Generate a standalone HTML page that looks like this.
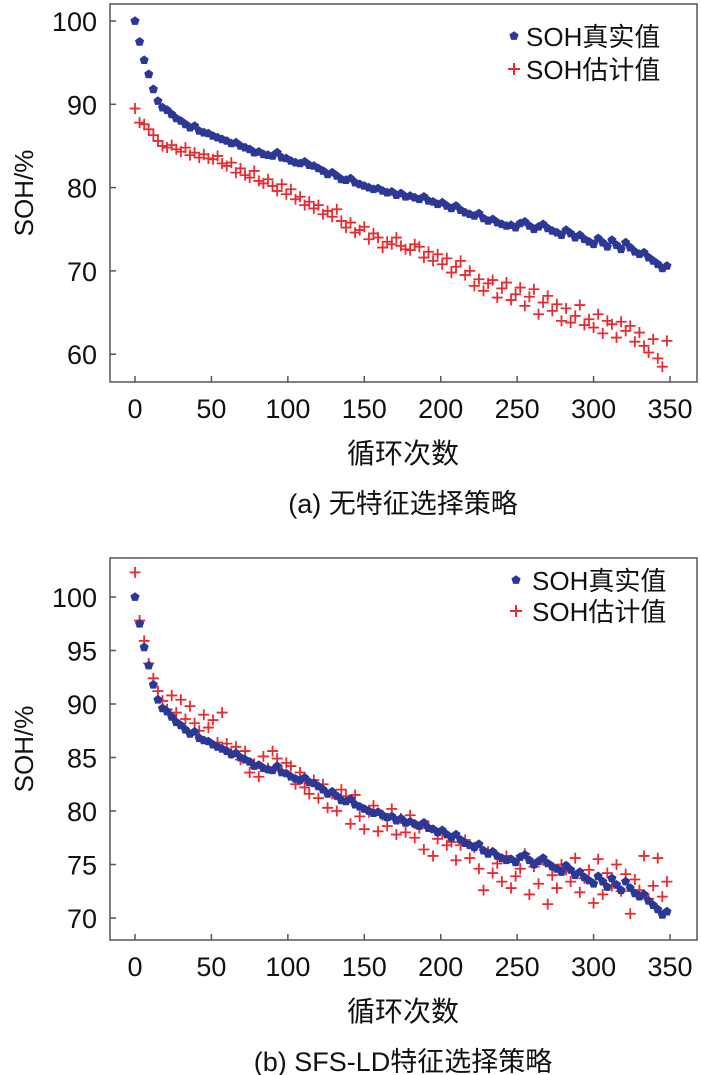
<!DOCTYPE html>
<html><head><meta charset="utf-8"><style>
body{margin:0;background:#fff;width:701px;height:1075px;overflow:hidden}
svg{display:block}
text{font-family:"Liberation Sans","Noto Sans CJK SC",sans-serif;fill:#111}
</style></head><body>
<svg id="svg" width="701" height="1075"></svg>
<script>
const cycles=[];for(let c=0;c<=348;c+=3)cycles.push(c);
const trueSOH=[100,97.5,95.3,93.6,91.8,90.4,89.6,89.3,88.8,88.3,
88.0,87.6,87.2,87.4,86.8,86.6,86.5,86.2,86.0,85.8,
85.6,85.3,85.4,85.0,84.8,84.6,84.2,84.3,84.0,83.9,
83.8,84.2,83.6,83.5,83.2,83.0,82.9,83.1,82.7,82.6,
82.3,82.0,81.6,81.8,81.4,81.0,80.9,81.1,80.6,80.4,
80.2,80.0,79.8,79.9,79.6,79.4,79.5,79.1,79.3,78.9,
79.0,78.8,78.6,78.9,78.4,78.3,78.0,78.2,77.8,77.5,
77.8,77.3,77.0,76.8,76.6,76.9,76.3,76.0,76.2,75.8,
75.6,75.4,75.5,75.2,75.7,75.9,75.4,75.0,75.3,75.6,
75.1,74.8,74.6,74.3,74.9,74.5,74.0,74.3,73.8,73.5,
73.2,73.9,73.4,72.9,73.7,73.1,72.6,73.4,72.8,72.3,
72.0,72.2,71.6,71.2,70.8,70.3,70.6];
const estA=[89.5,87.8,87.6,87.0,86.3,85.6,85.0,84.8,85.1,84.6,
84.3,84.8,83.9,84.2,83.6,84.0,83.5,83.4,83.8,82.9,
82.6,83.0,81.8,82.3,81.5,81.2,82.0,80.8,80.5,81.0,
80.2,79.6,80.4,79.2,79.8,78.6,78.9,77.9,78.3,77.5,
77.9,76.8,77.2,76.5,77.4,76.0,75.2,75.8,74.6,74.9,
75.3,73.8,74.5,74.0,72.8,73.5,73.2,74.0,73.0,72.6,
72.5,73.2,72.9,71.6,72.3,71.2,72.0,70.8,71.5,69.8,
70.5,71.2,69.5,70.0,68.2,69.0,67.6,68.5,68.9,66.8,
67.9,68.6,66.5,67.2,68.0,65.8,66.9,67.8,64.8,66.2,
67.0,65.2,66.0,64.0,65.5,63.8,64.6,65.9,63.5,64.2,
63.2,64.8,62.5,64.0,63.6,62.0,63.9,62.8,63.4,61.5,
62.6,61.0,60.2,61.8,59.5,58.5,61.6];
const estB=[102.3,97.8,95.9,93.8,92.4,91.2,90.3,89.5,90.8,89.2,
90.4,88.6,89.8,88.2,87.5,89.0,87.8,88.5,86.4,89.2,
86.3,85.4,86.0,84.8,85.6,83.6,84.4,83.2,85.1,84.0,
85.6,84.9,83.8,84.5,84.2,82.5,83.6,82.2,81.6,82.9,
81.2,82.5,80.3,81.6,80.0,82.0,81.4,78.8,81.5,79.5,
78.3,79.9,80.5,78.1,79.6,78.6,80.2,77.8,79.3,78.0,
79.6,77.5,78.4,76.4,78.6,75.8,77.4,78.0,76.8,77.1,
75.4,76.8,77.3,75.6,76.6,74.6,72.6,76.2,74.2,75.1,
73.4,75.8,72.8,73.9,74.6,76.0,72.2,74.8,73.2,75.4,
71.3,74.0,72.8,75.0,74.5,73.4,75.6,72.4,73.7,74.5,
71.4,75.5,72.2,74.2,73.0,75.0,72.5,74.1,70.4,73.6,
72.6,75.8,71.8,73.0,75.6,72.0,73.4];
const xTicks=[0,50,100,150,200,250,300,350];
const yTicksA=[60,70,80,90,100];
const yTicksB=[70,75,80,85,90,95,100];
const NS="http://www.w3.org/2000/svg";
const svg=document.getElementById('svg');
function mk(tag,attrs,parent){const e=document.createElementNS(NS,tag);for(const k in attrs)e.setAttribute(k,attrs[k]);(parent||svg).appendChild(e);return e;}
function xs(c){return 135+c*(670-135)/350;}
function pent(cx,cy,r){let p=[];for(let i=0;i<5;i++){const a=-Math.PI/2+i*2*Math.PI/5;p.push((cx+r*Math.cos(a)).toFixed(1)+","+(cy+r*Math.sin(a)).toFixed(1));}return p.join(" ");}
function chart(cfg){
  const g=mk('g',{});
  
  
  const ys=v=>cfg.y0+(cfg.v0-v)*cfg.k;
  const box=mk('rect',{x:110,y:cfg.top,width:587,height:cfg.bot-cfg.top,fill:'none',stroke:'#555','stroke-width':1.5},g);
  
  
  cfg.yt.forEach(v=>{const y=ys(v);
    mk('line',{x1:110,x2:116,y1:y,y2:y,stroke:'#555','stroke-width':1.5},g);
    const t=mk('text',{x:97,y:y+10,'text-anchor':'end','font-size':27},g);t.textContent=v;
    
    });
  xTicks.forEach(v=>{const x=xs(v);
    mk('line',{x1:x,x2:x,y1:cfg.bot,y2:cfg.bot-6,stroke:'#555','stroke-width':1.5},g);
    const t=mk('text',{x:x,y:cfg.bot+36,'text-anchor':'middle','font-size':27},g);t.textContent=v;
    
    });
  const yl=mk('text',{x:0,y:0,transform:`translate(33,${(cfg.top+cfg.bot)/2}) rotate(-90)`,'text-anchor':'middle','font-size':26},g);yl.textContent='SOH/%';
  
  
  const xl=mk('text',{x:403,y:cfg.bot+81,'text-anchor':'middle','font-size':28},g);xl.textContent='循环次数';
  
  
  const cap=mk('text',{x:403,y:cfg.bot+131,'text-anchor':'middle','font-size':27},g);cap.textContent=cfg.cap;
  
  
  cfg.est.forEach((v,i)=>{const x=xs(cycles[i]),y=ys(v);
    const p=mk('path',{d:`M${x-5.5},${y}H${x+5.5}M${x},${y-5.5}V${y+5.5}`,stroke:'#ea2a2e','stroke-width':1.8,fill:'none'},g);
    
    });
  trueSOH.forEach((v,i)=>{const x=xs(cycles[i]),y=ys(v);
    const p=mk('polygon',{points:pent(x,y,4.8),fill:'#2b3895'},g);
    
    });
  const L=cfg.leg;
  const lp=mk('polygon',{points:pent(L.x,L.y1,4.8),fill:'#2b3895'},g);
  
  
  const lt=mk('text',{x:L.tx,y:L.y1+10,'font-size':26},g);lt.textContent='SOH真实值';
  
  
  const lx=mk('path',{d:`M${L.x-6},${L.y2}H${L.x+6}M${L.x},${L.y2-6}V${L.y2+6}`,stroke:'#ea2a2e','stroke-width':2},g);
  
  
  const le=mk('text',{x:L.tx,y:L.y2+10,'font-size':26},g);le.textContent='SOH估计值';
  
  
}
chart({name:'chart-a',top:4,bot:382,v0:100,y0:21,k:8.33,yt:yTicksA,est:estA,cap:'(a) 无特征选择策略',leg:{x:514,tx:526,y1:36,y2:69}});
chart({name:'chart-b',top:558,bot:940,v0:100,y0:597,k:10.7,yt:yTicksB,est:estB,cap:'(b) SFS-LD特征选择策略',leg:{x:516,tx:532,y1:580,y2:611}});
</script>
</body></html>
